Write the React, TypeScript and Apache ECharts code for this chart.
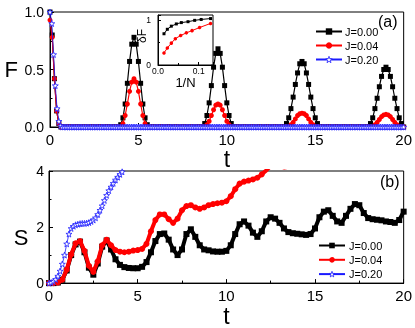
import React, { useEffect, useRef } from "react";
import * as echarts from "echarts";

const seriesNames = ["J=0.00", "J=0.04", "J=0.20"];

// Panel (a): fidelity F(t); black/red sampled every 0.125, blue every 0.1
const F_STEP_BR = 0.125;
const F_STEP_B = 0.1;
const F_J000 = [
  1.0, 0.8, 0.42, 0.14, 0.03, 0, 0, 0,
  0, 0, 0, 0, 0, 0, 0, 0,
  0, 0, 0, 0, 0, 0, 0, 0,
  0, 0, 0, 0, 0, 0, 0, 0,
  0.02, 0.08, 0.2, 0.38, 0.57, 0.72, 0.78, 0.72,
  0.57, 0.38, 0.2, 0.08, 0.02, 0, 0, 0,
  0, 0, 0, 0, 0, 0, 0, 0,
  0, 0, 0, 0, 0, 0, 0, 0,
  0, 0, 0, 0, 0, 0, 0.03, 0.1,
  0.21, 0.36, 0.52, 0.64, 0.68, 0.64, 0.52, 0.36,
  0.21, 0.1, 0.03, 0, 0, 0, 0, 0,
  0, 0, 0, 0, 0, 0, 0, 0,
  0, 0, 0, 0, 0, 0, 0, 0,
  0, 0, 0, 0.03, 0.08, 0.16, 0.26, 0.37,
  0.47, 0.55, 0.57, 0.55, 0.47, 0.37, 0.26, 0.16,
  0.08, 0.03, 0, 0, 0, 0, 0, 0,
  0, 0, 0, 0, 0, 0, 0, 0,
  0, 0, 0, 0, 0, 0, 0, 0,
  0, 0.03, 0.08, 0.16, 0.25, 0.35, 0.44, 0.5,
  0.52, 0.5, 0.44, 0.35, 0.25, 0.16, 0.08, 0.03,
  0,
];
const F_J004 = [
  0.93, 0.78, 0.42, 0.14, 0.03, 0, 0, 0,
  0, 0, 0, 0, 0, 0, 0, 0,
  0, 0, 0, 0, 0, 0, 0, 0,
  0, 0, 0, 0, 0, 0, 0, 0,
  0, 0.03, 0.1, 0.2, 0.31, 0.39, 0.42, 0.39,
  0.31, 0.2, 0.1, 0.03, 0, 0, 0, 0,
  0, 0, 0, 0, 0, 0, 0, 0,
  0, 0, 0, 0, 0, 0, 0, 0,
  0, 0, 0, 0, 0, 0, 0, 0.02,
  0.05, 0.1, 0.15, 0.19, 0.2, 0.19, 0.15, 0.1,
  0.05, 0.02, 0, 0, 0, 0, 0, 0,
  0, 0, 0, 0, 0, 0, 0, 0,
  0, 0, 0, 0, 0, 0, 0, 0,
  0, 0, 0, 0, 0, 0.02, 0.04, 0.07,
  0.1, 0.115, 0.12, 0.115, 0.1, 0.07, 0.04, 0.02,
  0, 0, 0, 0, 0, 0, 0, 0,
  0, 0, 0, 0, 0, 0, 0, 0,
  0, 0, 0, 0, 0, 0, 0, 0,
  0, 0, 0, 0.02, 0.04, 0.065, 0.09, 0.105,
  0.11, 0.105, 0.09, 0.065, 0.04, 0.02, 0, 0,
  0,
];
const F_J020 = [
  1.0, 0.9, 0.63, 0.36, 0.16, 0.05, 0.01, 0, 0, 0,
  0, 0, 0, 0, 0, 0, 0, 0, 0, 0,
  0, 0, 0, 0, 0, 0, 0, 0, 0, 0,
  0, 0, 0, 0, 0, 0, 0, 0, 0, 0,
  0, 0, 0, 0, 0, 0, 0, 0, 0, 0,
  0, 0, 0, 0, 0, 0, 0, 0, 0, 0,
  0, 0, 0, 0, 0, 0, 0, 0, 0, 0,
  0, 0, 0, 0, 0, 0, 0, 0, 0, 0,
  0, 0, 0, 0, 0, 0, 0, 0, 0, 0,
  0, 0, 0, 0, 0, 0, 0, 0, 0, 0,
  0, 0, 0, 0, 0, 0, 0, 0, 0, 0,
  0, 0, 0, 0, 0, 0, 0, 0, 0, 0,
  0, 0, 0, 0, 0, 0, 0, 0, 0, 0,
  0, 0, 0, 0, 0, 0, 0, 0, 0, 0,
  0, 0, 0, 0, 0, 0, 0, 0, 0, 0,
  0, 0, 0, 0, 0, 0, 0, 0, 0, 0,
  0, 0, 0, 0, 0, 0, 0, 0, 0, 0,
  0, 0, 0, 0, 0, 0, 0, 0, 0, 0,
  0, 0, 0, 0, 0, 0, 0, 0, 0, 0,
  0, 0, 0, 0, 0, 0, 0, 0, 0, 0,
  0,
];

// Panel (b): entropy S(t); black/red every 0.25, blue every 0.125
const S_STEP_BR = 0.25;
const S_STEP_B = 0.125;
const S_J000 = [
  0, 0, 0.02, 0.12,
  0.45, 1.0, 1.38, 1.48,
  1.1, 0.55, 0.3, 0.7,
  1.3, 1.52, 1.2, 0.85,
  0.65, 0.57, 0.54, 0.53,
  0.53, 0.58, 0.75, 1.1,
  1.5, 1.75, 1.77, 1.55,
  1.2, 1.0, 1.2, 1.75,
  1.92, 1.65, 1.35, 1.2,
  1.17, 1.13, 1.12, 1.12,
  1.15, 1.35, 1.75, 2.1,
  2.2, 2.05, 1.8, 1.65,
  1.85, 2.2, 2.35, 2.3,
  2.15, 1.95, 1.82, 1.78,
  1.76, 1.74, 1.72, 1.75,
  1.95, 2.35, 2.55, 2.6,
  2.4, 2.2, 2.15, 2.4,
  2.65, 2.82, 2.78, 2.5,
  2.32, 2.28, 2.26, 2.24,
  2.2, 2.18, 2.15, 2.25,
  2.55,
];
const S_J004 = [
  0, 0, 0.02, 0.12,
  0.48, 1.02, 1.42, 1.5,
  1.15, 0.62, 0.4, 0.78,
  1.35, 1.55, 1.35, 1.18,
  1.12, 1.1, 1.12, 1.16,
  1.18, 1.22, 1.4, 1.85,
  2.25, 2.45, 2.45, 2.28,
  2.15, 2.3, 2.6, 2.75,
  2.78, 2.7, 2.65, 2.7,
  2.78, 2.82, 2.85, 2.87,
  2.92, 3.1, 3.35, 3.55,
  3.62, 3.66, 3.7, 3.76,
  3.88, 4.02, 4.18, 4.26,
  4.22, 4.12, 4.15, 4.3,
  4.45, 4.6, 4.75,
];
const S_J020 = [
  0, 0.02, 0.06, 0.13, 0.25, 0.43, 0.68, 1.0,
  1.4, 1.75, 1.95, 2.03, 2.08, 2.1, 2.12, 2.13,
  2.13, 2.14, 2.16, 2.2, 2.25, 2.33, 2.45, 2.6,
  2.76, 2.95, 3.13, 3.3, 3.43, 3.56, 3.68, 3.78,
  3.88, 3.97, 4.06,
];

// Inset: deltaF vs 1/N
const invN_J000 = [0.0147, 0.0229, 0.0327, 0.045, 0.0573, 0.0737, 0.09, 0.106, 0.129];
const dF_J000 = [0.7, 0.8, 0.87, 0.92, 0.95, 0.97, 1.0, 1.02, 1.04];
const invN_J004 = [0.0147, 0.0229, 0.0327, 0.0425, 0.0556, 0.0696, 0.0835, 0.102, 0.129];
const dF_J004 = [0.27, 0.38, 0.49, 0.59, 0.66, 0.72, 0.77, 0.84, 0.93];

const BLACK = "#000000";
const RED = "#ff0000";
const BLUE = "#1a1aff";
const STAR =
  "path://M5 0L6.18 3.38L9.76 3.45L6.9 5.62L7.94 9.05L5 7L2.06 9.05L3.1 5.62L0.24 3.45L3.82 3.38Z";
const FONT = "Liberation Sans";

const seq = (step: number, vals: number[]) =>
  vals.map((v, i) => [Math.round(i * step * 1000) / 1000, v]);
const zip = (xs: number[], ys: number[]) => xs.map((x, i) => [x, ys[i]]);

const legendItems = [
  { name: seriesNames[0] },
  { name: seriesNames[1] },
  { name: seriesNames[2], itemStyle: { color: "#ffffff", borderColor: BLUE, borderWidth: 0.8 } },
];

export default function App() {
  const ref = useRef<HTMLDivElement>(null);
  useEffect(() => {
    if (!ref.current) return;
    const chart = echarts.init(ref.current, null, { renderer: "svg" });

    const mainX = (gridIndex: number, nameGap: number) => ({
      gridIndex,
      type: "value",
      min: 0,
      max: 20,
      interval: 5,
      name: "t",
      nameLocation: "middle",
      nameGap,
      nameTextStyle: { fontSize: 23, color: BLACK, fontFamily: FONT },
      axisLine: { show: true, onZero: false, lineStyle: { color: BLACK, width: 1 } },
      axisTick: { show: true, inside: true, length: 4, lineStyle: { color: BLACK } },
      minorTick: { show: true, splitNumber: 2, length: 2.5, lineStyle: { color: BLACK } },
      axisLabel: { fontSize: 15, color: BLACK, margin: 5, fontFamily: FONT },
      splitLine: { show: false },
    });

    const option: any = {
      animation: false,
      textStyle: { fontFamily: FONT },
      grid: [
        { left: 50, top: 12, width: 355, height: 115, show: true, borderColor: BLACK, borderWidth: 1, backgroundColor: "transparent" },
        { left: 49, top: 171, width: 355, height: 117, show: true, borderColor: BLACK, borderWidth: 1, backgroundColor: "transparent" },
        { left: 158, top: 15, width: 55, height: 50, show: true, borderColor: BLACK, borderWidth: 1, backgroundColor: "#ffffff" },
      ],
      xAxis: [
        mainX(0, 12),
        mainX(1, 15),
        {
          gridIndex: 2,
          type: "value",
          min: 0,
          max: 0.135,
          interval: 0.1,
          name: "1/N",
          nameLocation: "middle",
          nameGap: 2,
          nameTextStyle: { fontSize: 13, color: BLACK, fontFamily: FONT },
          axisLine: { show: true, onZero: false, lineStyle: { color: BLACK, width: 1 } },
          axisTick: { show: true, inside: true, length: 3, lineStyle: { color: BLACK } },
          minorTick: { show: true, splitNumber: 2, length: 2, lineStyle: { color: BLACK } },
          axisLabel: { fontSize: 8.5, color: BLACK, margin: 1, formatter: (v: number) => v.toFixed(1), showMaxLabel: false },
          splitLine: { show: false },
        },
      ],
      yAxis: [
        {
          gridIndex: 0,
          type: "value",
          min: 0,
          max: 1,
          interval: 0.5,
          name: "F",
          nameLocation: "middle",
          nameRotate: 0,
          nameGap: 32,
          nameTextStyle: { fontSize: 22, color: BLACK, fontFamily: FONT },
          axisLine: { show: true, onZero: false, lineStyle: { color: BLACK, width: 1 } },
          axisTick: { show: true, inside: true, length: 4, lineStyle: { color: BLACK } },
          minorTick: { show: true, splitNumber: 2, length: 2.5, lineStyle: { color: BLACK } },
          axisLabel: { fontSize: 14, color: BLACK, margin: 6, formatter: (v: number) => v.toFixed(1) },
          splitLine: { show: false },
        },
        {
          gridIndex: 1,
          type: "value",
          min: 0,
          max: 4,
          interval: 2,
          axisLine: { show: true, onZero: false, lineStyle: { color: BLACK, width: 1 } },
          axisTick: { show: true, inside: true, length: 4, lineStyle: { color: BLACK } },
          minorTick: { show: true, splitNumber: 2, length: 2.5, lineStyle: { color: BLACK } },
          axisLabel: { fontSize: 14, color: BLACK, margin: 5 },
          splitLine: { show: false },
        },
        {
          gridIndex: 2,
          type: "value",
          min: 0,
          max: 1.12,
          interval: 1,
          axisLine: { show: true, onZero: false, lineStyle: { color: BLACK, width: 1 } },
          axisTick: { show: true, inside: true, length: 3, lineStyle: { color: BLACK } },
          minorTick: { show: true, splitNumber: 2, length: 2, lineStyle: { color: BLACK } },
          axisLabel: { fontSize: 8.5, color: BLACK, margin: 7, showMaxLabel: false },
          splitLine: { show: false },
        },
      ],
      legend: [
        {
          data: legendItems,
          orient: "vertical",
          left: 310,
          top: 21,
          itemWidth: 26,
          itemHeight: 8,
          itemGap: 3,
          selectedMode: false,
          textStyle: { fontSize: 11, color: BLACK, fontFamily: FONT, padding: [0, 0, 0, -2] },
        },
        {
          data: legendItems,
          orient: "vertical",
          left: 313,
          top: 235,
          itemWidth: 26,
          itemHeight: 7,
          itemGap: 3.3,
          selectedMode: false,
          textStyle: { fontSize: 11, color: BLACK, fontFamily: FONT, padding: [0, 0, 0, -1] },
        },
      ],
      graphic: [
        { type: "text", left: 378, top: 13, style: { text: "(a)", fontSize: 16, fill: BLACK, fontFamily: FONT } },
        { type: "text", left: 380, top: 173, style: { text: "(b)", fontSize: 16, fill: BLACK, fontFamily: FONT } },
        {
          type: "text",
          x: 21,
          y: 237,
          style: { text: "S", fontSize: 22, fill: BLACK, fontFamily: FONT, align: "center", verticalAlign: "middle" },
        },
        {
          type: "text",
          x: 142,
          y: 36,
          rotation: Math.PI / 2,
          style: { text: "δF", fontSize: 12, fill: BLACK, fontFamily: FONT, align: "center", verticalAlign: "middle" },
        },
      ],
      series: [
        {
          name: seriesNames[0], type: "line", xAxisIndex: 0, yAxisIndex: 0,
          data: seq(F_STEP_BR, F_J000), symbol: "rect", symbolSize: 5,
          itemStyle: { color: BLACK }, lineStyle: { color: BLACK, width: 1.2 }, z: 3,
        },
        {
          name: seriesNames[1], type: "line", xAxisIndex: 0, yAxisIndex: 0,
          data: seq(F_STEP_BR, F_J004), symbol: "circle", symbolSize: 5,
          itemStyle: { color: RED }, lineStyle: { color: RED, width: 1.2 }, z: 4,
        },
        {
          name: seriesNames[2], type: "line", xAxisIndex: 0, yAxisIndex: 0,
          data: seq(F_STEP_B, F_J020), symbol: STAR, symbolSize: 6,
          itemStyle: { color: "#ffffff", borderColor: BLUE, borderWidth: 0.8 },
          lineStyle: { color: BLUE, width: 0.8 }, z: 5,
        },
        {
          name: seriesNames[0], type: "line", xAxisIndex: 1, yAxisIndex: 1,
          data: seq(S_STEP_BR, S_J000), symbol: "rect", symbolSize: 6,
          itemStyle: { color: BLACK }, lineStyle: { color: BLACK, width: 4 }, z: 3,
        },
        {
          name: seriesNames[1], type: "line", xAxisIndex: 1, yAxisIndex: 1,
          data: seq(S_STEP_BR, S_J004), symbol: "circle", symbolSize: 6,
          itemStyle: { color: RED }, lineStyle: { color: RED, width: 4 }, z: 4,
        },
        {
          name: seriesNames[2], type: "line", xAxisIndex: 1, yAxisIndex: 1,
          data: seq(S_STEP_B, S_J020), symbol: STAR, symbolSize: 6,
          itemStyle: { color: "#ffffff", borderColor: BLUE, borderWidth: 0.8 },
          lineStyle: { color: BLUE, width: 0.8 }, z: 5,
        },
        {
          name: "inset J=0.00", type: "line", xAxisIndex: 2, yAxisIndex: 2,
          data: zip(invN_J000, dF_J000), symbol: "rect", symbolSize: 3,
          itemStyle: { color: BLACK }, lineStyle: { color: BLACK, width: 1 }, z: 6,
        },
        {
          name: "inset J=0.04", type: "line", xAxisIndex: 2, yAxisIndex: 2,
          data: zip(invN_J004, dF_J004), symbol: "circle", symbolSize: 3.5,
          itemStyle: { color: RED }, lineStyle: { color: RED, width: 1 }, z: 6,
        },
      ],
    };

    chart.setOption(option);
    return () => chart.dispose();
  }, []);

  return (
    <div
      ref={ref}
      style={{ position: "fixed", left: 0, top: 0, width: 415, height: 328 }}
    />
  );
}
